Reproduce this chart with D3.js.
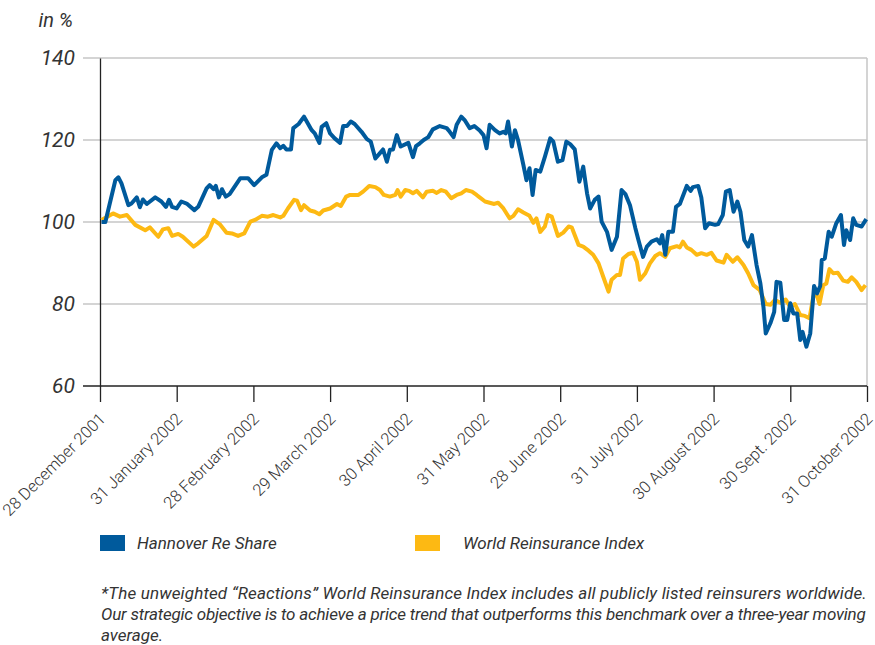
<!DOCTYPE html>
<html>
<head>
<meta charset="utf-8">
<script src="https://cdn.jsdelivr.net/npm/d3@7"></script>
<style>
  body { margin: 0; background: #fff; }
  text { font-family: "Roboto", "Liberation Sans", sans-serif; fill: #333; }
</style>
</head>
<body>
<div id="chart"></div>
<script>
// month-end dates, equally spaced on the axis
const dateLabels = ['28 December 2001', '31 January 2002', '28 February 2002', '29 March 2002',
    '30 April 2002', '31 May 2002', '28 June 2002', '31 July 2002', '30 August 2002',
    '30 Sept. 2002', '31 October 2002'];
const yTicks = [60, 80, 100, 120, 140];
const seriesNames = ['Hannover Re Share', 'World Reinsurance Index'];
const seriesColors = ['#005a9c', '#fdb913'];

// [position in months since 28 Dec 2001, value in %]
const hannover = [
    [0.02,100.0],[0.07,100.0],[0.20,110.2],[0.24,110.9],[0.28,109.4],[0.37,104.1],[0.41,104.5],
    [0.48,106.0],[0.52,103.6],[0.56,105.5],[0.61,104.4],[0.72,106.0],[0.80,105.0],[0.86,103.7],
    [0.90,105.4],[0.94,103.7],[1.00,103.3],[1.06,105.0],[1.13,104.5],[1.23,102.9],[1.28,103.7],
    [1.39,108.2],[1.43,109.0],[1.48,108.0],[1.51,108.8],[1.55,106.0],[1.59,108.0],[1.64,106.2],
    [1.69,106.8],[1.83,110.7],[1.93,110.7],[2.01,109.0],[2.11,110.9],[2.17,111.5],[2.24,117.6],
    [2.30,119.2],[2.35,118.0],[2.39,118.6],[2.43,117.7],[2.49,117.7],[2.52,122.9],[2.59,123.9],
    [2.66,125.7],[2.69,124.7],[2.76,122.4],[2.80,121.6],[2.86,119.3],[2.89,123.2],[2.95,124.1],
    [3.00,121.6],[3.06,120.4],[3.13,119.3],[3.17,123.4],[3.22,123.4],[3.27,124.5],[3.32,123.9],
    [3.41,122.0],[3.48,120.2],[3.53,119.6],[3.59,115.5],[3.65,116.8],[3.69,117.7],[3.74,114.7],
    [3.78,117.6],[3.82,117.7],[3.87,121.2],[3.92,118.4],[4.02,119.3],[4.08,115.8],[4.12,118.5],
    [4.17,119.2],[4.22,120.0],[4.28,120.7],[4.34,122.6],[4.43,123.4],[4.52,122.9],[4.56,122.0],
    [4.61,120.7],[4.65,123.7],[4.71,125.7],[4.76,124.7],[4.82,122.9],[4.88,123.4],[4.95,122.3],
    [5.00,121.2],[5.04,118.0],[5.08,123.7],[5.15,122.4],[5.21,121.6],[5.26,122.0],[5.29,121.6],
    [5.32,124.5],[5.37,118.4],[5.41,122.4],[5.45,120.0],[5.52,113.9],[5.56,110.2],[5.60,113.1],
    [5.64,106.6],[5.68,112.7],[5.74,112.3],[5.80,115.9],[5.87,120.4],[5.91,119.6],[5.97,114.7],
    [6.03,115.1],[6.08,119.6],[6.13,119.0],[6.19,117.7],[6.25,109.8],[6.30,113.5],[6.35,107.0],
    [6.39,103.3],[6.45,105.4],[6.50,106.2],[6.54,100.1],[6.61,97.6],[6.67,93.2],[6.74,96.4],
    [6.80,107.8],[6.85,106.8],[6.91,104.1],[6.98,98.5],[7.02,95.6],[7.08,91.5],[7.13,94.0],
    [7.19,95.2],[7.26,95.8],[7.30,94.8],[7.33,96.8],[7.37,92.0],[7.41,97.6],[7.47,97.6],
    [7.51,103.7],[7.56,104.4],[7.65,108.8],[7.70,107.6],[7.73,108.5],[7.80,108.8],[7.84,106.0],
    [7.89,98.5],[7.94,99.7],[8.02,99.3],[8.06,99.5],[8.12,101.7],[8.16,107.4],[8.21,107.8],
    [8.26,102.5],[8.31,105.0],[8.35,102.5],[8.40,95.6],[8.45,94.0],[8.50,96.8],[8.56,89.5],
    [8.61,85.0],[8.65,79.3],[8.68,72.8],[8.74,75.3],[8.79,78.1],[8.82,85.4],[8.87,85.2],
    [8.92,76.1],[8.96,76.1],[9.00,80.2],[9.04,77.7],[9.09,77.7],[9.13,71.2],[9.16,73.2],
    [9.21,69.6],[9.26,72.8],[9.31,84.4],[9.35,82.6],[9.39,84.4],[9.41,90.7],[9.45,91.1],
    [9.50,97.6],[9.54,96.4],[9.60,99.7],[9.66,101.7],[9.70,94.4],[9.73,98.0],[9.78,95.6],
    [9.82,100.9],[9.86,99.3],[9.93,98.9],[9.99,100.7]
];

const worldIndex = [
    [0.02,100.5],[0.17,102.1],[0.26,101.3],[0.35,101.7],[0.46,99.3],[0.59,98.0],[0.65,98.7],
    [0.76,96.4],[0.82,98.2],[0.89,98.5],[0.94,96.6],[1.02,97.1],[1.08,96.4],[1.22,94.0],
    [1.28,94.8],[1.39,96.6],[1.48,100.5],[1.56,99.5],[1.65,97.4],[1.72,97.2],[1.80,96.6],
    [1.88,97.2],[1.96,100.1],[2.02,100.5],[2.11,101.5],[2.19,101.3],[2.26,101.7],[2.35,101.1],
    [2.39,101.5],[2.45,103.3],[2.53,105.4],[2.57,105.2],[2.62,102.9],[2.66,104.1],[2.74,102.8],
    [2.80,102.5],[2.86,101.9],[2.91,102.8],[3.00,103.3],[3.09,104.4],[3.14,103.9],[3.21,106.2],
    [3.26,106.6],[3.37,106.6],[3.43,107.4],[3.51,108.8],[3.59,108.5],[3.65,107.8],[3.70,106.6],
    [3.78,106.2],[3.85,106.6],[3.88,107.8],[3.92,106.2],[3.98,107.8],[4.03,107.6],[4.08,107.0],
    [4.13,107.6],[4.21,106.0],[4.26,107.4],[4.34,107.6],[4.39,107.1],[4.45,107.8],[4.51,107.4],
    [4.58,105.8],[4.65,106.6],[4.71,107.0],[4.77,107.8],[4.85,107.4],[4.91,106.6],[4.95,106.0],
    [5.02,105.0],[5.08,104.7],[5.14,104.4],[5.19,104.7],[5.26,103.3],[5.34,100.9],[5.39,101.5],
    [5.45,103.1],[5.52,102.3],[5.60,101.5],[5.65,99.8],[5.69,100.9],[5.74,97.6],[5.80,98.9],
    [5.84,101.7],[5.89,101.3],[5.97,96.6],[6.04,97.4],[6.11,98.9],[6.15,98.7],[6.24,94.4],
    [6.30,94.0],[6.37,93.0],[6.43,92.0],[6.50,89.9],[6.56,86.7],[6.63,83.0],[6.67,85.9],
    [6.74,87.1],[6.78,87.1],[6.82,91.1],[6.89,92.2],[6.95,92.5],[7.00,90.3],[7.04,85.9],
    [7.11,87.5],[7.17,89.9],[7.24,91.7],[7.30,92.4],[7.37,91.5],[7.43,93.6],[7.52,94.1],
    [7.56,93.8],[7.60,95.2],[7.65,93.8],[7.71,93.2],[7.78,92.0],[7.84,92.4],[7.91,92.0],
    [7.97,92.5],[8.04,90.6],[8.13,90.1],[8.17,92.0],[8.25,90.3],[8.31,91.4],[8.39,89.5],
    [8.45,87.5],[8.52,84.6],[8.60,83.4],[8.68,80.0],[8.74,79.8],[8.80,81.0],[8.87,80.3],
    [8.94,81.1],[9.00,79.3],[9.06,80.0],[9.13,77.3],[9.19,77.1],[9.25,76.5],[9.30,81.8],
    [9.34,82.6],[9.38,80.0],[9.43,84.6],[9.47,85.0],[9.51,88.5],[9.56,87.5],[9.62,87.6],
    [9.69,85.7],[9.75,85.4],[9.80,86.5],[9.86,85.4],[9.93,83.4],[9.98,84.6]
];

const footnote = [
    '*The unweighted \u201CReactions\u201D World Reinsurance Index includes all publicly listed reinsurers worldwide.',
    'Our strategic objective is to achieve a price trend that outperforms this benchmark over a three-year moving',
    'average.'
];

const width = 875, height = 645;
const svg = d3.select('#chart').append('svg')
    .attr('width', width)
    .attr('height', height);

const x = d3.scaleLinear().domain([0, 10]).range([100, 867]);
const y = d3.scaleLinear().domain([60, 140]).range([386, 58]);

// horizontal grid lines
svg.append('g')
    .selectAll('line')
    .data(yTicks.filter(d => d > 60))
    .enter().append('line')
    .attr('x1', 83).attr('x2', x(10))
    .attr('y1', d => y(d)).attr('y2', d => y(d))
    .attr('stroke', '#c6c6c6')
    .attr('stroke-width', 1.5);

// right frame line
svg.append('line')
    .attr('x1', x(10)).attr('x2', x(10))
    .attr('y1', y(140)).attr('y2', y(60))
    .attr('stroke', '#c6c6c6')
    .attr('stroke-width', 1.5);

// y axis
const yAxis = d3.axisLeft(y).tickValues(yTicks).tickSize(0).tickPadding(25);
const yAxisG = svg.append('g')
    .attr('transform', `translate(${x(0)},0)`)
    .call(yAxis);
yAxisG.select('.domain').attr('stroke', '#222').attr('stroke-width', 1.3);
yAxisG.selectAll('text')
    .style('font-size', '21px')
    .style('font-style', 'italic')
    .style('fill', '#333');

// x axis
const xAxis = d3.axisBottom(x).tickValues(d3.range(0, 11)).tickSize(16).tickFormat(i => dateLabels[i]);
const xAxisG = svg.append('g')
    .attr('transform', `translate(0,${y(60)})`)
    .call(xAxis);
xAxisG.select('.domain').remove();
xAxisG.selectAll('line').attr('stroke', '#222').attr('stroke-width', 1.3);
xAxisG.selectAll('text')
    .style('font-size', '16.5px')
    .style('font-weight', 300)
    .style('fill', '#333')
    .attr('text-anchor', 'end')
    .attr('dy', 0)
    .attr('y', 0)
    .attr('transform', 'translate(6,34) rotate(-45)');

svg.append('line')
    .attr('x1', 83).attr('x2', x(10))
    .attr('y1', y(60)).attr('y2', y(60))
    .attr('stroke', '#222')
    .attr('stroke-width', 1.3);

svg.append('text')
    .attr('x', 73).attr('y', 27)
    .attr('text-anchor', 'end')
    .style('font-size', '20px')
    .style('font-style', 'italic')
    .text('in %');

// lines
const line = d3.line()
    .x(d => x(d[0]))
    .y(d => y(d[1]));

svg.append('path')
    .datum(worldIndex)
    .attr('fill', 'none')
    .attr('stroke', seriesColors[1])
    .attr('stroke-width', 4)
    .attr('stroke-linejoin', 'round')
    .attr('d', line);

svg.append('path')
    .datum(hannover)
    .attr('fill', 'none')
    .attr('stroke', seriesColors[0])
    .attr('stroke-width', 4)
    .attr('stroke-linejoin', 'round')
    .attr('d', line);

// legend
const legend = svg.append('g')
    .selectAll('g')
    .data(seriesNames)
    .enter().append('g')
    .attr('transform', (d, i) => `translate(${i === 0 ? 100 : 415},535)`);

legend.append('rect')
    .attr('width', 25)
    .attr('height', 16)
    .attr('fill', (d, i) => seriesColors[i]);

legend.append('text')
    .attr('x', (d, i) => i === 0 ? 37 : 48)
    .attr('y', 14)
    .style('font-size', '17px')
    .style('font-style', 'italic')
    .text(d => d);

// footnote
svg.append('g')
    .selectAll('text')
    .data(footnote)
    .enter().append('text')
    .attr('x', 101)
    .attr('y', (d, i) => 599 + i * 21)
    .style('font-size', '17px')
    .style('font-style', 'italic')
    .style('letter-spacing', (d, i) => ['0.15px', '-0.2px', '0px'][i])
    .text(d => d);
</script>
</body>
</html>
